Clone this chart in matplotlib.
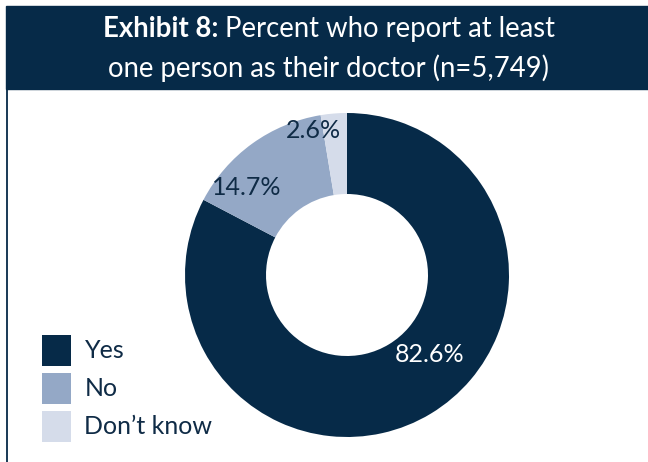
#!/usr/bin/env python3
"""Donut chart: percent who report at least one person as their doctor."""

import matplotlib
matplotlib.use("Agg")
import matplotlib.pyplot as plt
from matplotlib.patches import Rectangle, Patch

categories = ["Yes", "No", "Don\u2019t know"]
shares = [82.6, 14.7, 2.6]
labels = ["82.6%", "14.7%", "2.6%"]
colors = ["#062a48", "#94a8c6", "#d5dcea"]
label_colors = ["white", "#0f2b46", "#0f2b46"]

NAVY = "#062a48"
TEXT = "#0f2b46"
W, H = 648, 462

plt.rcParams["font.family"] = ["Lato", "DejaVu Sans"]

fig = plt.figure(figsize=(W / 100, H / 100), dpi=100)

# header band and left rule
fig.patches.append(Rectangle((6 / W, 1 - 89 / H), 1, 83 / H,
                             transform=fig.transFigure, color=NAVY, zorder=0))
fig.add_artist(plt.Line2D([6.8 / W, 6.8 / W], [0, 1 - 89 / H],
                          transform=fig.transFigure, color=NAVY, lw=1.3))

# title: bold lead + regular text on line 1
fs_title = 19.8
renderer = fig.canvas.get_renderer()
t1 = fig.text(0, 1 - 37 / H, "Exhibit 8:", color="white", fontsize=fs_title,
              fontweight="bold", va="baseline")
t2 = fig.text(0, 1 - 37 / H, " Percent who report at least", color="white",
              fontsize=fs_title, va="baseline")
w1 = t1.get_window_extent(renderer).width
w2 = t2.get_window_extent(renderer).width
x0 = 329 - (w1 + w2) / 2
t1.set_x(x0 / W)
t2.set_x((x0 + w1) / W)
fig.text(329 / W, 1 - 77 / H, "one person as their doctor (n=5,749)",
         color="white", fontsize=fs_title, ha="center", va="baseline")

# donut
cx, cy, r = 347, 275, 162
ax = fig.add_axes([(cx - r) / W, 1 - (cy + r) / H, 2 * r / W, 2 * r / H])
wedges, _ = ax.pie(shares, colors=colors, startangle=90, counterclock=False,
                   radius=1, wedgeprops=dict(width=0.5, linewidth=0))
ax.set_xlim(-1, 1)
ax.set_ylim(-1, 1)
ax.set_aspect("equal")
ax.axis("off")

# label positions (fractions of radius)
label_pos = [(0.51, -0.49), (-0.62, 0.54), (-0.21, 0.89)]
for txt, col, (lx, ly) in zip(labels, label_colors, label_pos):
    ax.text(lx, ly, txt, color=col, fontsize=18, ha="center", va="center")

handles = [Patch(facecolor=c, edgecolor="none") for c in colors]
fig.legend(handles, categories, loc="upper left",
           bbox_to_anchor=(42 / W, 1 - 335 / H), frameon=False,
           fontsize=18, labelcolor=TEXT, handlelength=1.15, handleheight=1.5,
           handletextpad=0.55, labelspacing=0.3, borderaxespad=0,
           borderpad=0)

fig.savefig("out.png", dpi=100)
